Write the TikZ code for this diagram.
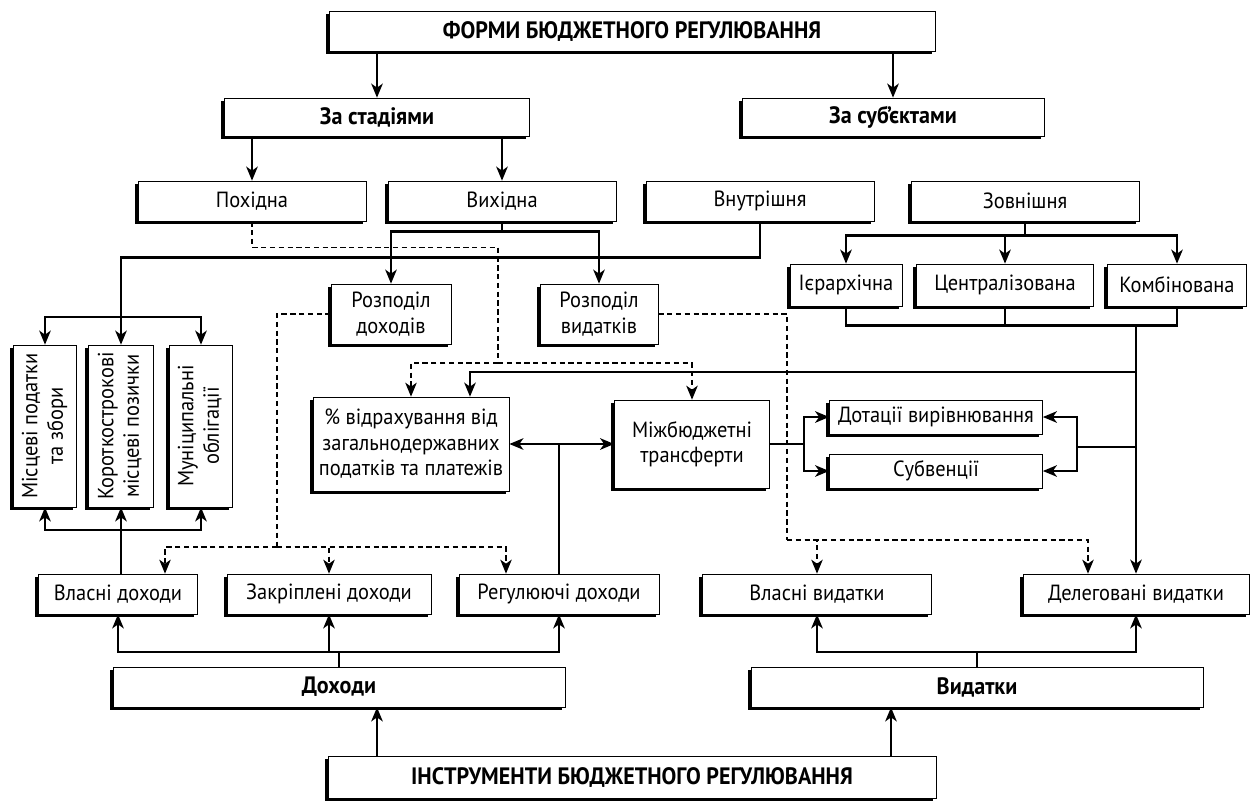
\documentclass[tikz,border=0pt]{standalone}
\usepackage{fontspec}
\setmainfont{PT Sans}[FakeStretch=0.93]
\usetikzlibrary{calc}
\usetikzlibrary{arrows.meta}
\usetikzlibrary{shadows}

\tikzset{
  blk/.style={draw, fill=white, line width=0.4pt, inner sep=1pt, align=center,
    font=\fontsize{12.5}{14.5}\selectfont,
    drop shadow={shadow xshift=-1.9pt, shadow yshift=-1.9pt, fill=black, opacity=1}},
  hd/.style={blk, font=\fontsize{13.5}{15}\selectfont\bfseries},
  bx/.style 2 args={minimum width=#1*0.2mm, minimum height=#2*0.2mm},
  con/.style={line width=1.3pt},
  dsh/.style={line width=0.7pt, dash pattern=on 3pt off 2pt},
}

\begin{document}
\begin{tikzpicture}[x=0.2mm, y=-0.2mm, >={Stealth[length=2.8mm, width=2.3mm, inset=0.8mm]}]
\useasboundingbox (0,0) rectangle (1250,806);

\node[hd, bx={606}{40}] (forms) at (632,31) {ФОРМИ БЮДЖЕТНОГО РЕГУЛЮВАННЯ};
\node[hd, bx={305}{38}] (stad) at (377,117) {За стадіями};
\node[hd, bx={302}{38}] (subj) at (893,117) {За суб’єктами};

\node[blk, bx={228}{40}] (pokh) at (252,201) {Похідна};
\node[blk, bx={228}{40}] (vykh) at (502,201) {Вихідна};
\node[blk, bx={228}{40}] (vnut) at (760,201) {Внутрішня};
\node[blk, bx={228}{40}] (zovn) at (1025,201) {Зовнішня};

\node[blk, bx={120}{60}] (rdoh) at (391,314) {Розподіл\\доходів};
\node[blk, bx={118}{60}] (rvyd) at (599,314) {Розподіл\\видатків};
\node[blk, bx={112}{42}] (ierarh) at (846,285) {Ієрархічна};
\node[blk, bx={177}{42}] (centr) at (1005,285) {Централізована};
\node[blk, bx={139}{42}] (komb) at (1177,285) {Комбінована};

\node[blk, bx={63}{162}] (mist) at (45,426) {\rotatebox{90}{\begin{tabular}{@{}c@{}}Місцеві податки\\та збори\end{tabular}}};
\node[blk, bx={65}{162}] (korot) at (121,426) {\rotatebox{90}{\begin{tabular}{@{}c@{}}Короткострокові\\місцеві позички\end{tabular}}};
\node[blk, bx={63}{162}] (mun) at (201,426) {\rotatebox{90}{\begin{tabular}{@{}c@{}}Муніципальні\\облігації\end{tabular}}};

\node[blk, bx={196}{94}] (pct) at (411,444) {\% відрахування від\\загальнодержавних\\податків та платежів};
\node[blk, bx={155}{88}] (mbt) at (692,444) {Міжбюджетні\\трансферти};
\node[blk, bx={213}{34}] (dot) at (936,417) {Дотації вирівнювання};
\node[blk, bx={213}{34}] (sub) at (936,471) {Субвенції};

\node[blk, bx={159}{40}] (vdoh) at (118,594) {Власні доходи};
\node[blk, bx={204}{40}] (zakr) at (329,594) {Закріплені доходи};
\node[blk, bx={200}{40}] (regul) at (559,594) {Регулюючі доходи};
\node[blk, bx={229}{40}] (vvyd) at (817,594) {Власні видатки};
\node[blk, bx={226}{40}] (deleg) at (1136,594) {Делеговані видатки};

\node[hd, bx={452}{40}] (dokh) at (339,687) {Доходи};
\node[hd, bx={452}{40}] (vydat) at (977,687) {Видатки};
\node[hd, bx={608}{42}] (instr) at (632,777) {ІНСТРУМЕНТИ БЮДЖЕТНОГО РЕГУЛЮВАННЯ};

\coordinate (vsplit) at (121,317);
\coordinate (kbus) at (1137,325);
\coordinate (tbus) at (1137,372);
\coordinate (dsj) at (1077,447);
\coordinate (pj) at (498,363);
\coordinate (rj) at (277,547);
\coordinate (vj) at (787,540);
\coordinate (vdj) at (121,530);
\coordinate (pa) at ([xshift=11.8mm]pct.north);
\coordinate (ra) at ([xshift=9.4mm]vdoh.north);
\coordinate (rb) at ([xshift=-10.6mm]regul.north);
\coordinate (da) at ([xshift=-9.6mm]deleg.north);
\coordinate (ia) at ([xshift=7.6mm]dokh.south);
\coordinate (ib) at ([xshift=-17.2mm]vydat.south);

\draw[con,->] (forms.south -| stad.north) -- (stad.north);
\draw[con,->] (forms.south -| subj.north) -- (subj.north);
\draw[con,->] (stad.south -| pokh.north) -- (pokh.north);
\draw[con,->] (stad.south -| vykh.north) -- (vykh.north);
\draw[con,->] (vykh.south) -- ++(0,10) -| (rdoh.north);
\draw[con,->] (vykh.south) -- ++(0,10) -| (rvyd.north);

\draw[con] (vnut.south) -- ++(0,36) -| (vsplit);
\draw[con,->] (vsplit) -| (mist.north);
\draw[con,->] (vsplit) -- (korot.north);
\draw[con,->] (vsplit) -| (mun.north);

\draw[con,->] (zovn.south) -- ++(0,14) -| (ierarh.north);
\draw[con,->] (zovn.south) -- ++(0,14) -| (centr.north);
\draw[con,->] (zovn.south) -- ++(0,14) -| (komb.north);
\draw[con] (ierarh.south) -- ++(0,19) -| (komb.south);
\draw[con] (centr.south) -- ++(0,19);

\draw[con,->] (deleg.north |- kbus) -- (deleg.north);
\draw[con,->] (deleg.north |- tbus) -| (pa);
\draw[con] (deleg.north |- dsj) -- (dsj);
\draw[con,->] (dsj) |- (dot.east);
\draw[con,->] (dsj) |- (sub.east);
\draw[con,->] (mbt.east) -- ++(34,0) |- (dot.west);
\draw[con,->] (mbt.east) -- ++(34,0) |- (sub.west);
\draw[con,<->] (pct.east) -- (mbt.west);
\draw[con] (regul.north) -- (regul.north |- pct.east);

\draw[dsh] (pokh.south) -- ++(0,26) -| (pj);
\draw[dsh,->] (pj) -| (pct.north);
\draw[dsh,->] (pj) -| (mbt.north);
\draw[dsh] (rdoh.west) -| (rj);
\draw[dsh,->] (rj) -| (ra);
\draw[dsh,->] (rj) -| (zakr.north);
\draw[dsh,->] (rj) -| (rb);
\draw[dsh] (rvyd.east) -| (vj);
\draw[dsh,->] (vj) -| (vvyd.north);
\draw[dsh,->] (vj) -| (da);

\draw[con,->] (vdoh.north -| vdj) -- (korot.south);
\draw[con,->] (vdj) -| (mist.south);
\draw[con,->] (vdj) -| (mun.south);

\draw[con,->] (dokh.north) -- ++(0,-15) -| (vdoh.south);
\draw[con,->] (dokh.north) -- ++(0,-15) -| (zakr.south);
\draw[con,->] (dokh.north) -- ++(0,-15) -| (regul.south);
\draw[con,->] (vydat.north) -- ++(0,-15) -| (vvyd.south);
\draw[con,->] (vydat.north) -- ++(0,-15) -| (deleg.south);
\draw[con,->] (ia |- instr.north) -- (ia);
\draw[con,->] (ib |- instr.north) -- (ib);
\end{tikzpicture}
\end{document}
